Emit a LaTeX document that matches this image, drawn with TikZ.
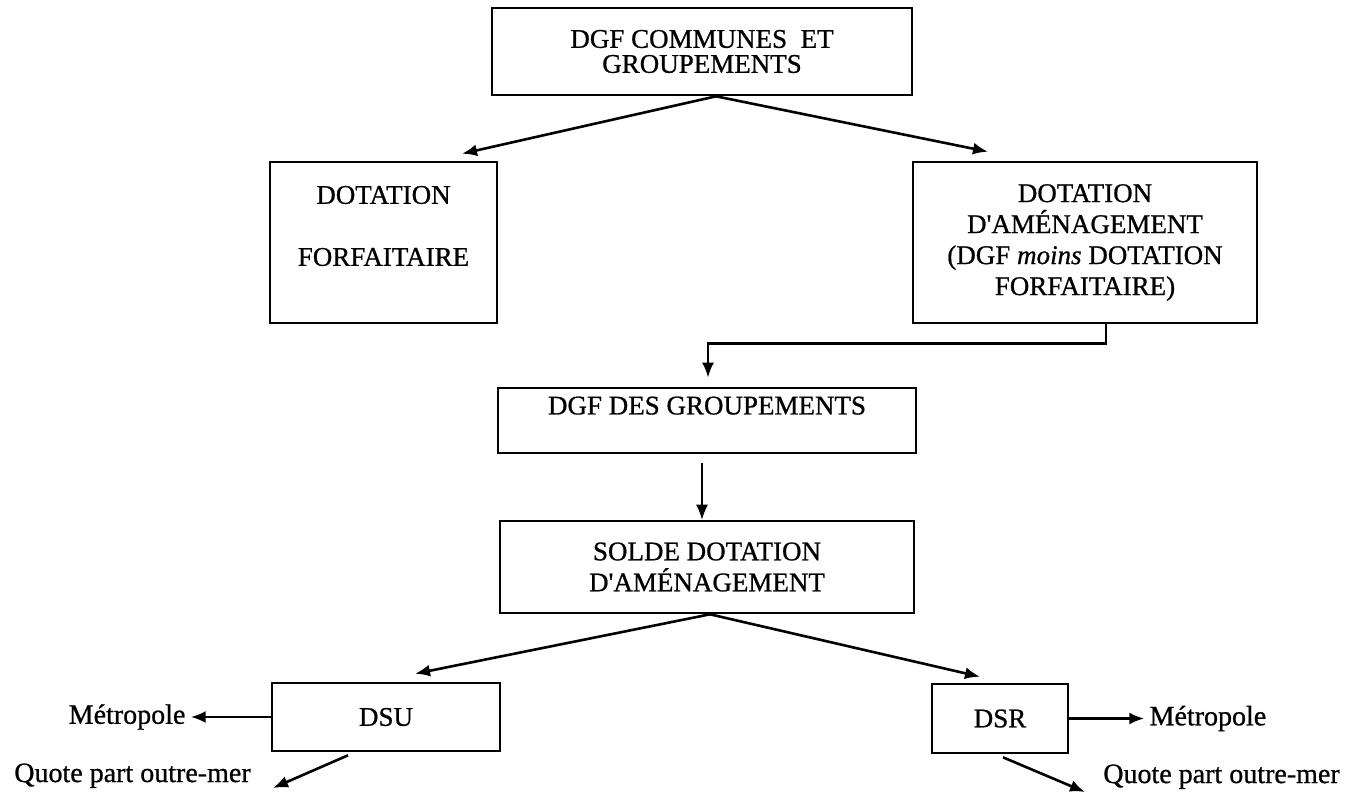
\documentclass[tikz,border=0pt]{standalone}
\usepackage{fontspec}
\setmainfont{Liberation Serif}[FakeBold=0.8]
\usetikzlibrary{arrows.meta,positioning}

\newcommand{\apos}{\textquotesingle}

\begin{document}
\begin{tikzpicture}[x=1pt,y=-1pt,>={Latex[length=15pt,width=12pt]},line width=2.6pt,
  box/.style={draw,rectangle,inner sep=0pt,align=center,font=\fontsize{27}{31}\selectfont},
  txt/.style={inner sep=0pt,align=center,font=\fontsize{27}{31}\selectfont},
  lbl/.style={inner sep=4pt,font=\fontsize{28}{31}\selectfont}]
  \useasboundingbox (0,0) rectangle (1346,796);

  \node[box,minimum width=420pt,minimum height=87pt,font=\fontsize{27}{25}\selectfont] (dgf) at (702,51.5) {DGF COMMUNES~ ET\\GROUPEMENTS};
  \node[box,minimum width=227pt,minimum height=161pt] (forf) at (383.5,242.5) {};
  \node[txt] (forftxt) at (383.5,226) {DOTATION\\[31pt]FORFAITAIRE};
  \node[box,minimum width=344pt,minimum height=161pt] (amen) at (1085,242.5) {DOTATION\\D\apos AMÉNAGEMENT\\(DGF \textit{moins} DOTATION\\FORFAITAIRE)};
  \node[box,minimum width=418pt,minimum height=65pt,text depth=30pt] (grp) at (707,420.5) {DGF DES GROUPEMENTS};
  \node[box,minimum width=414pt,minimum height=92pt] (solde) at (707,567) {SOLDE DOTATION\\D\apos AMÉNAGEMENT};
  \node[box,minimum width=228pt,minimum height=68pt] (dsu) at (386,717) {DSU};
  \node[box,minimum width=136pt,minimum height=69pt] (dsr) at (1000,718.5) {DSR};

  \node[lbl,left=80pt of dsu] (metl) {Métropole};
  \node[lbl,right=75pt of dsr] (metr) {Métropole};
  \node[lbl,inner sep=0pt,anchor=base west] (qol) at (13,782) {Quote part outre-mer};
  \node[lbl,inner sep=0pt,anchor=base west] (qor) at (1102,783) {Quote part outre-mer};
  \coordinate (qlend) at (273,788);
  \coordinate (qrend) at (1085,792);

  \draw[->] ([xshift=14pt]dgf.south) -- ([xshift=78.5pt,yshift=7pt]forf.north);
  \draw[->] ([xshift=14pt]dgf.south) -- ([xshift=-97pt,yshift=9pt]amen.north);
  \draw[->,shorten >=9pt] ([xshift=21pt]amen.south) -- ++(0,19) -| ([xshift=1pt]grp.north);
  \draw[->,line width=1.4pt,shorten <=9pt] ([xshift=-5pt]grp.south) -- ([xshift=-5pt]solde.north);
  \draw[->] ([xshift=3pt]solde.south) -- ([xshift=29pt,yshift=8pt]dsu.north);
  \draw[->] ([xshift=3pt]solde.south) -- ([xshift=-20pt,yshift=6pt]dsr.north);
  \draw[->] (dsu.west) -- (metl.east);
  \draw[->] (dsr.east) -- (metr.west);
  \draw[->] ([xshift=-38pt,yshift=-3pt]dsu.south) -- (qlend);
  \draw[->] ([xshift=3pt,yshift=-3pt]dsr.south) -- (qrend);
\end{tikzpicture}
\end{document}
